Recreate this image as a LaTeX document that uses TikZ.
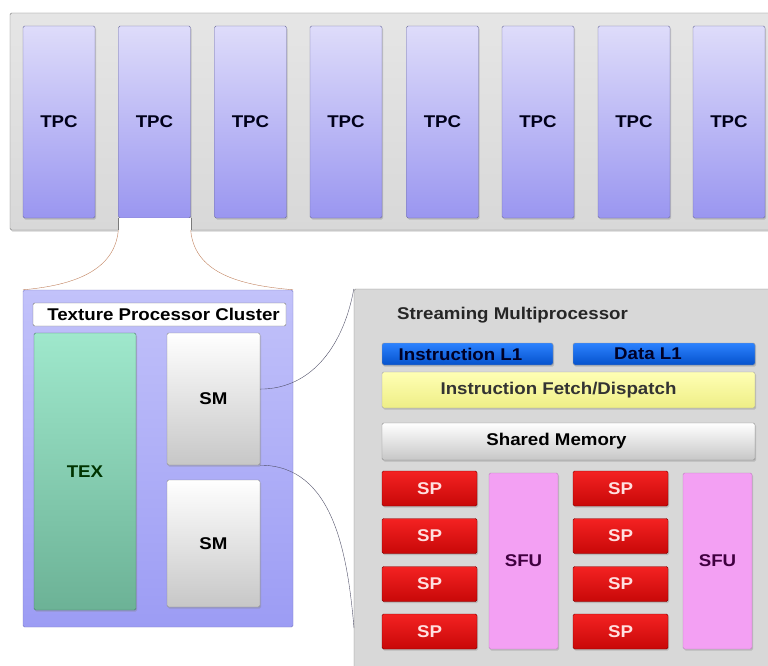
\documentclass[tikz,border=0pt]{standalone}
\usepackage{fontspec}
\setmainfont{Liberation Sans}[FakeStretch=1.1]
\usepackage{tikz}
\usetikzlibrary{shadows}

\definecolor{tpctop}{HTML}{DEDCFA}
\definecolor{tpcbot}{HTML}{9A96F0}
\definecolor{tpcline}{HTML}{6E6E9E}
\definecolor{chipfill}{HTML}{D8D8D8}
\definecolor{chipline}{HTML}{7A7A7A}
\definecolor{clustop}{HTML}{C2C2FA}
\definecolor{clusbot}{HTML}{9C9CF4}
\definecolor{texfill}{HTML}{9FE8CC}
\definecolor{texbot}{HTML}{6CB296}
\definecolor{l1top}{HTML}{2C82FF}
\definecolor{l1bot}{HTML}{0552CC}
\definecolor{fetchtop}{HTML}{FFFFB4}
\definecolor{fetchbot}{HTML}{EEEE86}
\definecolor{sptop}{HTML}{F42222}
\definecolor{spbot}{HTML}{C80808}
\definecolor{sfufill}{HTML}{F3A0F3}
\definecolor{zoomline}{HTML}{C0805C}
\definecolor{smline}{HTML}{505068}

\begin{document}
\begin{tikzpicture}[x=1pt, y=-1pt,
  box/.style={draw, rectangle, rounded corners=1.5pt,
    font=\fontsize{17}{20}\selectfont\bfseries, inner sep=0pt},
  shade/.style={drop shadow={opacity=0.35, shadow xshift=1pt,
    shadow yshift=-1.5pt}},
  tpc/.style={box, shade, draw=tpcline, top color=tpctop, bottom color=tpcbot,
    minimum width=72, minimum height=192, text=blue!10!black},
  grey/.style={box, shade, draw=black!45, top color=white, bottom color=black!22},
  l1/.style={box, shade, draw=black!40, top color=l1top, bottom color=l1bot,
    minimum height=22, text=blue!15!black},
  sp/.style={box, shade, draw=red!50!black, top color=sptop, bottom color=spbot,
    minimum width=95, minimum height=35, text=red!12},
  sfu/.style={box, shade, draw=violet!50, fill=sfufill, minimum width=69,
    minimum height=176, text=violet!50!black}]
  \useasboundingbox (0,0) rectangle (768,666);

  % whole chip
  \node[box, shade, draw=chipline, top color=black!10, bottom color=chipfill,
    minimum width=765, minimum height=217] (gpu) at (392.5,121.5) {};
  \node[tpc] (tpc1) at (59,122)    {TPC};
  \node[tpc] (tpc2) at (154.5,122) {TPC};
  \node[tpc] (tpc3) at (250.5,122) {TPC};
  \node[tpc] (tpc4) at (346,122)   {TPC};
  \node[tpc] (tpc5) at (442.5,122) {TPC};
  \node[tpc] (tpc6) at (538,122)   {TPC};
  \node[tpc] (tpc7) at (634,122)   {TPC};
  \node[tpc] (tpc8) at (729,122)   {TPC};
  % notch under the opened TPC
  \fill[white] (tpc2.south west) rectangle ([yshift=-3pt]tpc2.south east |- gpu.south);
  \draw[chipline] (tpc2.south west) -- (tpc2.south west |- gpu.south);
  \draw[chipline] (tpc2.south east) -- (tpc2.south east |- gpu.south);

  % texture processor cluster
  \node[box, draw=clusbot!80!black, top color=clustop, bottom color=clusbot,
    minimum width=270, minimum height=337] (clus) at (158,458.5) {};
  \node[box, draw=black!55, fill=white, minimum width=253,
    minimum height=23] (clustitle) at (159.5,314.5) {Texture Processor Cluster\kern-8pt};
  \node[box, shade, draw=texbot!70!black, top color=texfill, bottom color=texbot,
    minimum width=102, minimum height=277, text=green!20!black] (tex) at (85,471.5) {TEX};
  \node[grey, minimum width=93, minimum height=132] (sm1) at (213.5,399)   {SM};
  \node[grey, minimum width=93, minimum height=127] (sm2) at (213.5,543.5) {SM};

  % streaming multiprocessor
  \node[box, draw=black!50, fill=chipfill, minimum width=421,
    minimum height=391] (smbox) at (564.5,484.5) {};
  \node[anchor=west, font=\fontsize{17}{20}\selectfont\bfseries,
    text=black!85, inner sep=0pt] (smtitle) at (397,315) {Streaming Multiprocessor};
  \node[l1, minimum width=171] (il1) at (467.5,354) {Instruction L1\kern14pt};
  \node[l1, minimum width=182] (dl1) at (664,354)   {Data L1\kern32pt};
  \node[box, shade, draw=black!35, top color=fetchtop, bottom color=fetchbot,
    minimum width=373, minimum height=36, text=black!80] (fetch) at (568.5,390)
    {Instruction Fetch/Dispatch\kern20pt};
  \node[grey, minimum width=373, minimum height=37] (shmem) at (568.5,441.5)
    {Shared Memory\kern24pt};
  \node[sp] (sp1) at (429.5,488.5) {SP};
  \node[sp] (sp2) at (429.5,536)   {SP};
  \node[sp] (sp3) at (429.5,584)   {SP};
  \node[sp] (sp4) at (429.5,631.5) {SP};
  \node[sp] (sp5) at (620.5,488.5) {SP};
  \node[sp] (sp6) at (620.5,536)   {SP};
  \node[sp] (sp7) at (620.5,584)   {SP};
  \node[sp] (sp8) at (620.5,631.5) {SP};
  \node[sfu] (sfu1) at (523.5,561) {SFU};
  \node[sfu] (sfu2) at (717.5,561) {SFU};

  % zoom lines
  \coordinate (smlow) at (354,628);
  \draw[zoomline, thin] (tpc2.south west |- gpu.south) to[out=-95, in=5] (clus.north west);
  \draw[zoomline, thin] (tpc2.south east |- gpu.south) to[out=-85, in=175] (clus.north east);
  \draw[smline, thin] (sm1.12) to[out=0, in=-100] (smbox.north west);
  \draw[smline, thin] (sm1.south east) to[out=0, in=95] (smlow);
\end{tikzpicture}
\end{document}
